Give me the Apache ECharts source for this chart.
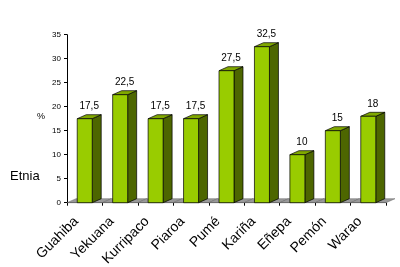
<!DOCTYPE html>
<html><head><meta charset="utf-8">
<script src="https://cdn.jsdelivr.net/npm/echarts@6/dist/echarts.min.js"></script>
<style>html,body{margin:0;padding:0;background:#fff}#c{width:400px;height:267px}</style>
</head><body><div id="c"></div>
<script>
const categories = ['Guahiba','Yekuana','Kurripaco','Piaroa','Pumé','Kariña','Eñepa','Pemón','Warao'];
const values = [17.5, 22.5, 17.5, 17.5, 27.5, 32.5, 10, 15, 18];
const yTicks = [0,5,10,15,20,25,30,35];

const DX = 9, DY = 4, FW = 15;
const chart = echarts.init(document.getElementById('c'), null, {renderer:'canvas'});

function fmt(v){ return String(v).replace('.', ','); }

function renderFloor(params, api){
  const i = api.value(0);
  const band = api.size([1,0])[0];
  const p = api.coord([i, 0]);
  const x0 = p[0] - band/2, x1 = p[0] + band/2, y = p[1];
  return {type:'polygon', shape:{points:[[x0,y],[x1,y],[x1+DX,y-DY],[x0+DX,y-DY]]},
    style:{fill:'#999999', stroke:'#666', lineWidth:0.5}, silent:true};
}
function renderBar(params, api){
  const i = api.value(0), v = api.value(1);
  const top = api.coord([i, v]);
  const base = api.coord([i, 0]);
  const cx = top[0];
  const xl = cx - FW/2, xr = cx + FW/2;
  const yt = top[1], yb = base[1];
  const st = {stroke:'#000', lineWidth:0.7};
  return {type:'group', children:[
    {type:'polygon', shape:{points:[[xr,yb],[xr+DX,yb-DY],[xr+DX,yt-DY],[xr,yt]]}, style:Object.assign({fill:'#4d6600'},st)},
    {type:'polygon', shape:{points:[[xl,yt],[xr,yt],[xr+DX,yt-DY],[xl+DX,yt-DY]]}, style:Object.assign({fill:'#80a800'},st)},
    {type:'rect', shape:{x:xl, y:yt, width:FW, height:yb-yt}, style:Object.assign({fill:'#99cc00'},st)},
    {type:'text', style:{text:fmt(v), x:cx+DX/2, y:yt-12, align:'center', verticalAlign:'middle', fill:'#000', font:'10px "Liberation Sans", Arial, sans-serif'}}
  ]};
}

chart.setOption({
  animation:false,
  grid:{left:67, right:14, top:34.7, bottom:64.3, containLabel:false, outerBoundsMode:'none'},
  xAxis:{type:'category', data:categories, boundaryGap:true,
    axisLine:{lineStyle:{color:'#000', width:1}},
    axisTick:{show:true, length:3, alignWithLabel:false, lineStyle:{color:'#000'}},
    axisLabel:{rotate:45, margin:8, padding:[0,12,0,0], color:'#000', fontSize:14, fontFamily:'"Liberation Sans", Arial, sans-serif', interval:0}},
  yAxis:{type:'value', min:yTicks[0], max:yTicks[yTicks.length-1], interval:5,
    axisLine:{show:true, lineStyle:{color:'#000', width:1}},
    axisTick:{show:true, length:3, lineStyle:{color:'#000'}},
    splitLine:{show:false},
    axisLabel:{color:'#000', fontSize:8, margin:6, fontFamily:'"Liberation Sans", Arial, sans-serif'}},
  graphic:[
    {type:'text', left:37, top:112, style:{text:'%', fill:'#000', font:'9px "Liberation Sans", Arial, sans-serif'}},
    {type:'text', left:10, top:170, style:{text:'Etnia', fill:'#000', font:'13px "Liberation Sans", Arial, sans-serif'}}
  ],
  series:[
    {type:'custom', renderItem:renderFloor, data:categories.map((c,i)=>[i,0]), z:1, silent:true},
    {type:'custom', renderItem:renderBar, data:values.map((v,i)=>[i,v]), z:2}
  ]
});
</script></body></html>
